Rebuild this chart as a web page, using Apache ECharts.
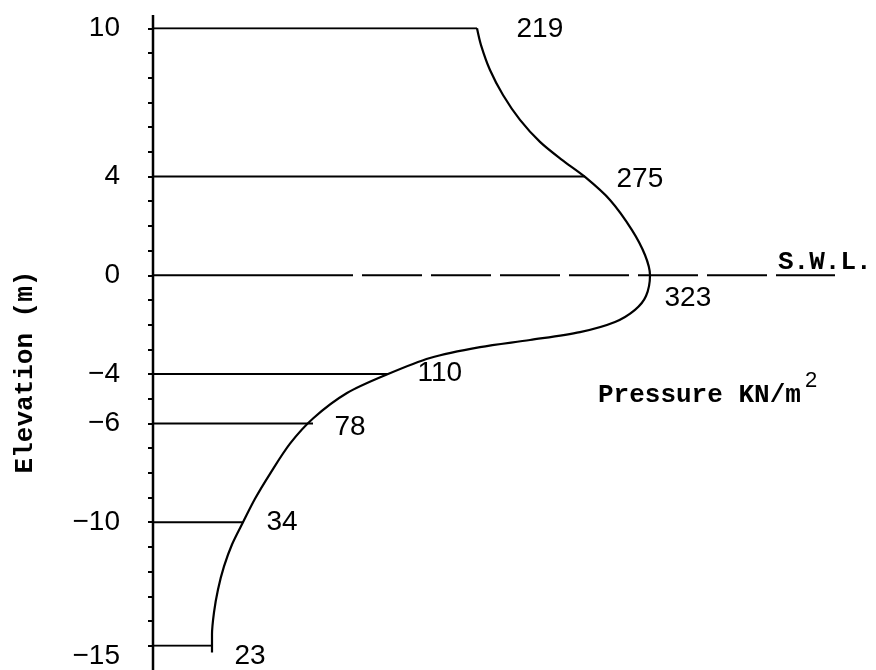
<!DOCTYPE html>
<html><head><meta charset="utf-8">
<script src="https://cdn.jsdelivr.net/npm/echarts@6/dist/echarts.min.js"></script>
<style>html,body{margin:0;padding:0;background:#fff}#c{width:876px;height:670px}</style>
</head><body><div id="c"></div>
<script>
// Elevation levels (m) that carry a horizontal reference line and a tick label
const levels = [10, 4, 0, -4, -6, -10, -15];
const tickLabels = ['10', '4', '0', '\u22124', '\u22126', '\u221210', '\u221215'];
// Pressure (kN/m^2) written at each level
const pressures = [219, 275, 323, 110, 78, 34, 23];
// Plotted horizontal extent of the pressure diagram at each level (drawing units)
const levelExtent = [324, 432, 497, 235, 160, 90, 59];
// Pressure distribution curve: plotted extent (drawing units) and elevation (m)
const curveX = [324, 328, 337, 350, 367, 387, 409, 432, 457, 479, 492, 497, 493, 482, 462, 427, 377, 327, 277, 235, 194, 160, 137, 117, 102, 90, 79, 71, 65, 61, 59, 59, 59];
const curveY = [10, 9.32, 8.31, 7.30, 6.29, 5.40, 4.67, 3.98, 3.05, 1.83, 0.82, 0, -0.84, -1.40, -1.89, -2.30, -2.62, -2.91, -3.35, -4.0, -4.77, -5.80, -6.82, -8.04, -9.05, -10.0, -10.9, -11.79, -12.72, -13.65, -14.55, -15, -15.28];
// Still water level line extent (drawing units)
const swlSolidEnd = 140;
const swlExtent = 682;
// Axis line extent (m)
const axisTop = 10.54, axisBottom = -15.98;

// layout only: label offsets (px) from each level's end point
const labelOffsets = [[40, 1], [32, 3], [15, 24], [30, 0], [22, 4], [24, 1], [23, 11]];

const numFont = 'Liberation Sans';
const typeFont = '"Liberation Mono"';
const chart = echarts.init(document.getElementById('c'));

const series = [];
series.push({
  type: 'line', data: [[0, axisTop], [0, axisBottom]], symbol: 'none', clip: false, silent: true,
  lineStyle: { color: '#000', width: 2.5 }
});
levels.forEach((lv, i) => {
  if (lv === 0) return;
  series.push({
    type: 'line', data: [[0, lv], [levelExtent[i], lv]], symbol: 'none', silent: true,
    lineStyle: { color: '#000', width: 2 }
  });
});
series.push({
  type: 'line', data: [[0, 0], [swlSolidEnd, 0]], symbol: 'none', silent: true,
  lineStyle: { color: '#000', width: 2 }
});
series.push({
  type: 'line', data: [[swlSolidEnd, 0], [swlExtent, 0]], symbol: 'none', silent: true,
  lineStyle: { color: '#000', width: 2, type: [60, 9] }
});
series.push({
  type: 'line', data: curveX.map((x, i) => [x, curveY[i]]), symbol: 'none', smooth: 0.3,
  smoothMonotone: 'none', clip: false, silent: true,
  lineStyle: { color: '#000', width: 2.2 }
});
series.push({
  type: 'scatter', symbolSize: 1, itemStyle: { color: 'rgba(0,0,0,0)', opacity: 1 }, silent: true,
  data: levels.map((lv, i) => ({
    value: [levelExtent[i], lv],
    label: {
      show: true, formatter: String(pressures[i]),
      position: labelOffsets[i], align: 'left', verticalAlign: 'middle',
      fontFamily: numFont, fontSize: 28, color: '#000', opacity: 1
    }
  }))
});

chart.setOption({
  animation: false,
  backgroundColor: '#fff',
  grid: { left: 153, right: 23, top: 28.3, bottom: 24.3, containLabel: false, outerBoundsMode: 'none' },
  xAxis: { type: 'value', min: 0, max: 700, show: false },
  yAxis: {
    type: 'value', min: -15, max: 10, interval: 1,
    axisLine: { show: false },
    axisTick: { show: true, length: 5, inside: false, lineStyle: { color: '#000', width: 2 } },
    splitLine: { show: false },
    axisLabel: {
      interval: 0, hideOverlap: false, margin: 33,
      fontFamily: numFont, fontSize: 28, color: '#000',
      formatter: v => {
        const idx = levels.indexOf(Math.round(v));
        if (idx < 0 || Math.abs(v - levels[idx]) > 1e-6) return '';
        if (levels[idx] === -15) return '{low|' + tickLabels[idx] + '}';
        return tickLabels[idx];
      },
      rich: { low: { fontFamily: numFont, fontSize: 28, color: '#000', padding: [22, 0, 0, 0] } }
    }
  },
  graphic: [
    { type: 'text', x: 25, y: 372, rotation: Math.PI / 2,
      style: { text: 'Elevation (m)', font: 'bold 26px ' + typeFont, fill: '#000', align: 'center', verticalAlign: 'middle' } },
    { type: 'text', x: 778, y: 262,
      style: { text: 'S.W.L.', font: 'bold 26px ' + typeFont, fill: '#000', align: 'left', verticalAlign: 'middle' } },
    { type: 'text', x: 598, y: 395,
      style: { text: 'Pressure KN/m', font: 'bold 26px ' + typeFont, fill: '#000', align: 'left', verticalAlign: 'middle' } },
    { type: 'text', x: 805, y: 381,
      style: { text: '2', font: '22px "Liberation Sans"', fill: '#000', align: 'left', verticalAlign: 'middle' } }
  ],
  series: series
});
</script></body></html>
